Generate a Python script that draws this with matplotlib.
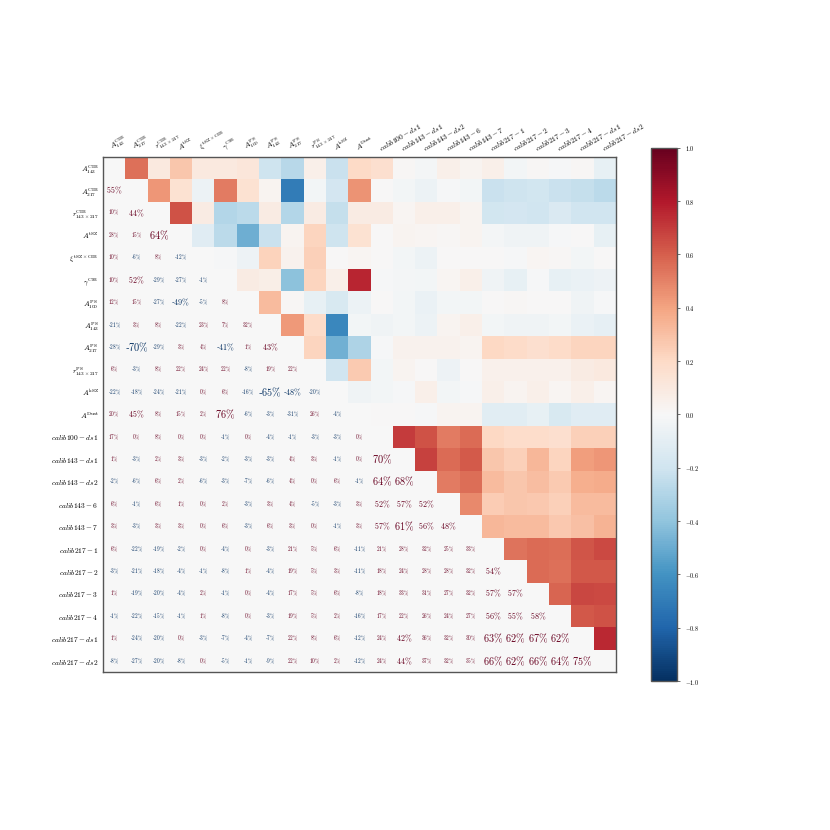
import numpy as np
import matplotlib
matplotlib.use('Agg')
import matplotlib.pyplot as plt

plt.rcParams['mathtext.fontset'] = 'cm'
plt.rcParams['font.family'] = 'serif'
plt.rcParams['font.serif'] = ['DejaVu Serif']

labels = [r'$A^{\mathrm{CIB}}_{143}$', r'$A^{\mathrm{CIB}}_{217}$', r'$r^{\mathrm{CIB}}_{143\times217}$',
          r'$A^{\mathrm{tSZ}}$', r'$\xi^{\mathrm{tSZ}\times\mathrm{CIB}}$', r'$\gamma^{\mathrm{CIB}}$',
          r'$A^{\mathrm{PS}}_{100}$', r'$A^{\mathrm{PS}}_{143}$', r'$A^{\mathrm{PS}}_{217}$',
          r'$r^{\mathrm{PS}}_{143\times217}$', r'$A^{\mathrm{kSZ}}$', r'$A^{\mathrm{Dust}}$',
          r'$calib100-ds1$', r'$calib143-ds1$', r'$calib143-ds2$', r'$calib143-6$', r'$calib143-7$',
          r'$calib217-1$', r'$calib217-2$', r'$calib217-3$', r'$calib217-4$',
          r'$calib217-ds1$', r'$calib217-ds2$']

# lower-triangle correlations (percent), row i has columns 0..i-1
corr_rows = [
    [],
    [55],
    [10, 44],
    [28, 15, 64],
    [10, -6, 8, -12],
    [10, 52, -29, -27, -1],
    [12, 15, -27, -49, -5, 8],
    [-21, 3, 8, -22, 23, 7, 32],
    [-28, -70, -29, 3, 4, -41, 1, 43],
    [6, -3, 8, 22, 24, 22, -8, 19, 22],
    [-22, -18, -24, -21, 0, 6, -16, -65, -48, -20],
    [20, 45, 8, 15, 2, 76, -6, -3, -31, 26, -4],
    [17, 0, 8, 0, 0, -1, 0, -4, -1, -3, -3, 0],
    [1, -3, 2, 3, -3, -2, -3, -3, 4, 3, -1, 0, 70],
    [-2, -6, 6, 2, -6, -3, -7, -6, 4, 0, 6, -1, 64, 68],
    [6, -1, 6, 1, 0, 2, -3, 3, 4, -5, -3, 3, 52, 57, 52],
    [3, -3, 3, 3, 0, 6, -3, 6, 3, 0, -1, 3, 57, 61, 56, 48],
    [6, -22, -19, -2, 0, -4, 0, -3, 21, 5, 6, -11, 21, 28, 32, 25, 33],
    [-3, -21, -18, -4, -1, -8, 1, -4, 19, 5, 3, -11, 18, 24, 28, 28, 32, 54],
    [1, -19, -20, -4, 2, -1, 0, -4, 17, 5, 6, -8, 18, 33, 31, 27, 32, 57, 57],
    [-1, -22, -15, -1, 1, -8, 0, -3, 19, 5, 2, -16, 17, 22, 26, 24, 27, 56, 55, 58],
    [1, -24, -20, 0, -3, -7, -4, -7, 22, 8, 6, -12, 24, 42, 36, 32, 30, 63, 62, 67, 62],
    [-8, -27, -20, -8, 0, -5, -1, -9, 22, 10, 2, -12, 24, 44, 37, 32, 35, 66, 62, 66, 64, 75],
]

N = len(labels)
M = np.zeros((N, N))
for i, row in enumerate(corr_rows):
    for j, v in enumerate(row):
        M[i, j] = v / 100.0
        M[j, i] = v / 100.0

upper = np.triu(np.ones((N, N), dtype=bool), k=1)

fig = plt.figure(figsize=(8.3, 8.3), dpi=100)
ax = fig.add_axes([0.124, 0.190, 0.618, 0.621])
ax.set_facecolor('#f7f7f7')
mesh = ax.pcolormesh(np.arange(N + 1), np.arange(N + 1), np.ma.masked_where(~upper, M),
                     cmap='RdBu_r', vmin=-1, vmax=1)
ax.set_xlim(0, N)
ax.set_ylim(N, 0)

for i in range(N):
    for j in range(i):
        v = M[i, j]
        a = abs(v)
        if a >= 0.6:
            fs = 7.4
        elif a >= 0.4:
            fs = 5.8
        else:
            fs = 3.8
        pct = int(round(v * 100))
        col = '#67001f' if pct >= 0 else '#053061'
        txt = ('-' if pct < 0 else '') + r'$%d\%%$' % abs(pct)
        ax.text(j + 0.5, i + 0.5, txt, ha='center', va='center',
                fontsize=fs, color=col)

ax.set_xticks(np.arange(N) + 0.5)
ax.set_yticks(np.arange(N) + 0.5)
ax.xaxis.tick_top()
ax.set_xticklabels(labels, rotation=30, ha='left', va='bottom', rotation_mode='anchor', fontsize=5.4)
ax.set_yticklabels(labels, fontsize=5.4)
ax.tick_params(length=0, pad=3)
for s in ax.spines.values():
    s.set_color('#555555')
    s.set_linewidth(1.0)

cax = fig.add_axes([0.784, 0.1795, 0.032, 0.6425])
cb = fig.colorbar(mesh, cax=cax)
ticks = np.linspace(-1, 1, 11)
cb.set_ticks(ticks)
cb.set_ticklabels([r'$%.1f$' % t if abs(t) > 1e-9 else r'$0.0$' for t in ticks])
cax.tick_params(labelsize=4.5, length=2, width=0.6, color='#555555')
cb.outline.set_edgecolor('#555555')
cb.outline.set_linewidth(1.0)

fig.savefig('out.png', dpi=100)
